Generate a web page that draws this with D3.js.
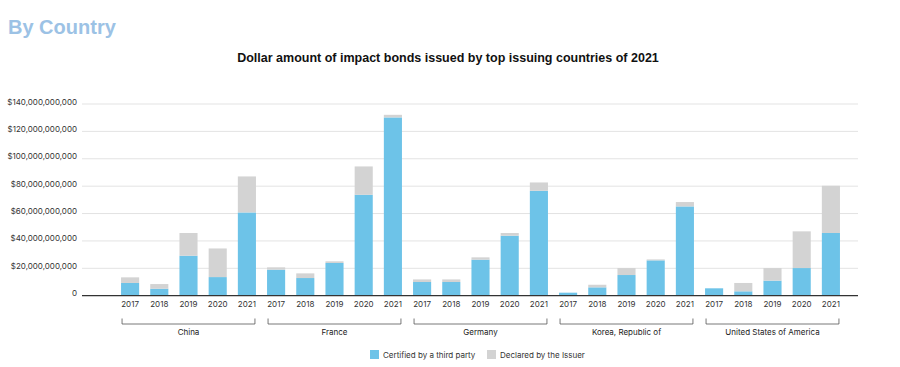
<!DOCTYPE html>
<html><head><meta charset="utf-8">
<script src="https://cdn.jsdelivr.net/npm/d3@7"></script>
<style>body{margin:0;background:#fff;font-family:"Inter","Liberation Sans",Arial,sans-serif;}</style>
</head><body><svg id="c" width="900" height="367"></svg>
<script>
const countries = ["China","France","Germany","Korea, Republic of","United States of America"];
const years = ["2017","2018","2019","2020","2021"];
// billions USD, per country in year order
const certified = [
  [9.3, 5.1, 29.2, 13.6, 60.8],
  [19.0, 12.9, 23.9, 73.7, 130.2],
  [10.0, 10.0, 26.3, 43.8, 76.6],
  [2.2, 6.1, 15.1, 25.8, 65.2],
  [5.4, 3.2, 11.0, 20.2, 45.8]
];
const declared = [
  [4.1, 3.4, 16.6, 20.9, 26.3],
  [1.7, 3.4, 1.2, 20.7, 1.9],
  [1.9, 1.9, 1.7, 2.0, 6.1],
  [0.0, 1.9, 5.1, 0.7, 3.2],
  [0.0, 6.1, 9.2, 26.8, 34.5]
];
const yTicks = [0,20,40,60,80,100,120,140];
const seriesNames = ["Certified by a third party","Declared by the Issuer"];
const colors = ["#6dc3e8","#d3d3d3"];

const svg = d3.select("#c");
const rows = [];
countries.forEach((c,i)=>years.forEach((yr,j)=>rows.push({key:c+"|"+yr,country:c,year:yr,cert:certified[i][j],decl:declared[i][j]})));

const x = d3.scaleBand().domain(rows.map(d=>d.key)).range([115.5,845.5]).paddingInner(0.38).paddingOuter(0.19);
const y = d3.scaleLinear().domain([0,140]).range([295.7,104]);

svg.append("text").attr("x",8).attr("y",34).attr("fill","#9cc2e5").attr("font-size",20).attr("font-weight",700)
  .attr("font-family","Liberation Sans, Arial, sans-serif").text("By Country");
svg.append("text").attr("x",448).attr("y",62).attr("text-anchor","middle").attr("font-size",12.5).attr("font-weight",700)
  .attr("fill","#111").attr("font-family","Liberation Sans, Arial, sans-serif").text("Dollar amount of impact bonds issued by top issuing countries of 2021");

// grid
const g = svg.append("g");
g.selectAll("line.grid").data(yTicks.filter(t=>t>0)).join("line")
  .attr("x1",82).attr("x2",858).attr("y1",d=>y(d)).attr("y2",d=>y(d)).attr("stroke","#e3e3e3").attr("stroke-width",1);
g.selectAll("text.yl").data(yTicks).join("text")
  .attr("x",77).attr("y",d=>y(d)+0.5).attr("text-anchor","end").attr("font-size",8).attr("fill","#333")
  .text(d=>d===0?"0":"$"+d3.format(",")(d*1e9));

// bars
const stack = d3.stack().keys(["cert","decl"])(rows);
stack.forEach((s,si)=>{
  svg.append("g").selectAll("rect").data(s).join("rect")
    .attr("x",d=>x(d.data.key)).attr("width",x.bandwidth())
    .attr("y",d=>y(d[1])).attr("height",d=>Math.max(0,y(d[0])-y(d[1])))
    .attr("fill",colors[si]);
});
svg.append("line").attr("x1",82).attr("x2",858).attr("y1",y(0)).attr("y2",y(0)).attr("stroke","#333").attr("stroke-width",1.3);

// year labels
svg.append("g").selectAll("text").data(rows).join("text")
  .attr("x",d=>x(d.key)+x.bandwidth()/2).attr("y",307).attr("text-anchor","middle").attr("font-size",8).attr("fill","#333")
  .text(d=>d.year);

// brackets
countries.forEach(c=>{
  const x0 = x(c+"|"+years[0]) + 1, x1 = x(c+"|"+years[years.length-1]) + x.bandwidth() - 1;
  svg.append("path").attr("d",`M${x0},318.5V324H${x1}V318.5`).attr("fill","none").attr("stroke","#555").attr("stroke-width",0.8);
  svg.append("text").attr("x",(x0+x1)/2).attr("y",335).attr("text-anchor","middle").attr("font-size",8).attr("fill","#222").text(c);
});

// legend
const leg = [{x:370,i:0},{x:487,i:1}];
leg.forEach(l=>{
  svg.append("rect").attr("x",l.x).attr("y",350).attr("width",9).attr("height",9).attr("fill",colors[l.i]);
  svg.append("text").attr("x",l.x+13).attr("y",357.5).attr("font-size",8).attr("fill","#333").text(seriesNames[l.i]);
});
</script></body></html>
